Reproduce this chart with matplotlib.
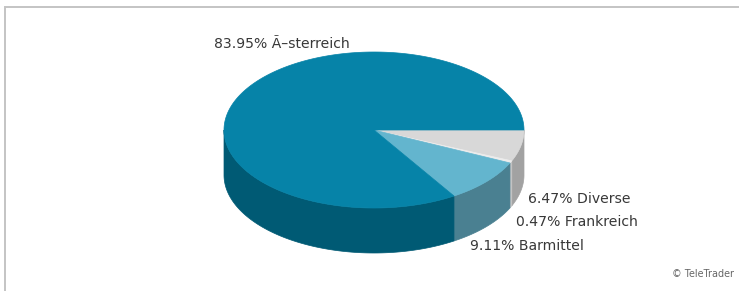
import numpy as np
import matplotlib
matplotlib.use("Agg")
import matplotlib.pyplot as plt
from matplotlib.patches import Polygon

# ---- data ----
categories = ["Diverse", "Frankreich", "Barmittel", "Ã–sterreich"]
values = [6.47, 0.47, 9.11, 83.95]
label_texts = ["6.47% Diverse", "0.47% Frankreich", "9.11% Barmittel", "83.95% Ã–sterreich"]

# ---- style / layout ----
top_colors = ["#d8d8d8", "#ececec", "#63b5ce", "#0683a8"]
side_colors = ["#a2a2a2", "#c4c4c4", "#4a8091", "#005a74"]
label_pos = [(528, 199), (516, 222), (470, 246), (214, 44)]

W, H = 739, 291
cx, cy, rx, ry, depth = 374, 130, 150, 78, 45

fig = plt.figure(figsize=(W / 100, H / 100), dpi=100)
ax = fig.add_axes([0, 0, 1, 1])
ax.set_xlim(0, W)
ax.set_ylim(H, 0)
ax.axis("off")

# frame
ax.plot([4.5, 4.5, W + 1], [H + 1, 6.5, 6.5], color="#c4c4c4", lw=1.4, solid_joinstyle="miter")


def arc(a1, a2, dy=0.0, n=None):
    if n is None:
        n = max(int(abs(a2 - a1) * 2) + 2, 3)
    t = np.radians(np.linspace(a1, a2, n))
    return np.column_stack([cx + rx * np.cos(t), cy + dy + ry * np.sin(t)])


total = sum(values)
angles = np.concatenate([[0], np.cumsum(values) / total * 360.0])

# side walls (visible front half: 0..180 deg, screen clockwise)
for i in range(len(values)):
    a1, a2 = angles[i], angles[i + 1]
    b1, b2 = max(a1, 0), min(a2, 180)
    if b2 > b1:
        upper = arc(b1, b2)
        lower = arc(b1, b2, dy=depth)[::-1]
        ax.add_patch(Polygon(np.vstack([upper, lower]), closed=True,
                             facecolor=side_colors[i], edgecolor=side_colors[i], lw=0.5))

# top faces
for i in range(len(values)):
    a1, a2 = angles[i], angles[i + 1]
    pts = np.vstack([[cx, cy], arc(a1, a2)])
    ax.add_patch(Polygon(pts, closed=True, facecolor=top_colors[i],
                         edgecolor=top_colors[i], lw=0.5))

# labels
for txt, (x, y) in zip(label_texts, label_pos):
    ax.text(x, y, txt, fontsize=10.1, family="DejaVu Sans", color="#383838",
            ha="left", va="center")

ax.text(672, 274, "© TeleTrader", fontsize=6.9, family="DejaVu Sans",
        color="#666666", ha="left", va="center")

fig.savefig("out.png", dpi=100)
